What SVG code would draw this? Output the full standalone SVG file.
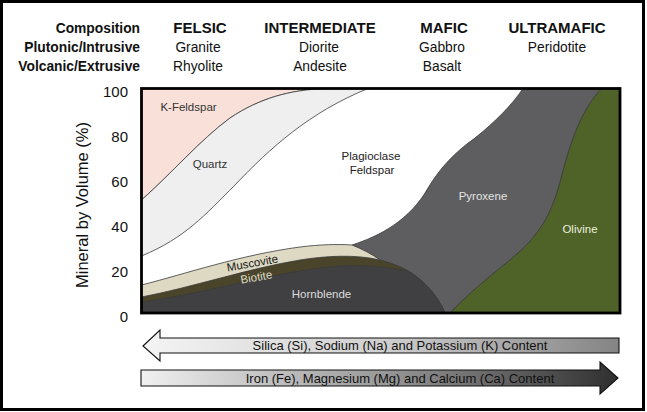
<svg xmlns="http://www.w3.org/2000/svg" width="647" height="412" viewBox="0 0 647 412">
<defs>
<style>
.hb{font-family:"Liberation Sans",Arial,sans-serif;font-weight:bold;fill:#111;}
.hr{font-family:"Liberation Sans",Arial,sans-serif;fill:#111;font-size:13.8px;text-anchor:middle;}
.ax{font-family:"Liberation Sans",Arial,sans-serif;fill:#111;font-size:15px;text-anchor:end;}
.lb{font-family:"Liberation Sans",Arial,sans-serif;font-size:11.5px;text-anchor:middle;}
.ar{font-family:"Liberation Sans",Arial,sans-serif;font-size:13px;fill:#111;text-anchor:middle;}
.bd{stroke:#3a3a3a;stroke-width:0.8;stroke-linejoin:round;}
</style>
<linearGradient id="g1" x1="0" y1="0" x2="1" y2="0">
<stop offset="0" stop-color="#f4f4f4"/><stop offset="0.5" stop-color="#d0d0d0"/><stop offset="1" stop-color="#848484"/>
</linearGradient>
<linearGradient id="g2" x1="0" y1="0" x2="1" y2="0">
<stop offset="0" stop-color="#f0f0f0"/><stop offset="0.5" stop-color="#9a9a9a"/><stop offset="1" stop-color="#2f2f2f"/>
</linearGradient>
</defs>
<rect x="0" y="0" width="647" height="412" fill="#ffffff"/>
<rect x="1.5" y="1.5" width="642" height="408" fill="none" stroke="#000" stroke-width="3"/>

<g id="header">
<text class="hb" x="140" y="33" font-size="13.8" text-anchor="end">Composition</text>
<text class="hb" x="140" y="52" font-size="13.8" text-anchor="end">Plutonic/Intrusive</text>
<text class="hb" x="140" y="70.5" font-size="13.8" text-anchor="end">Volcanic/Extrusive</text>
<text class="hb" x="200" y="33" font-size="15" text-anchor="middle">FELSIC</text>
<text class="hr" x="198" y="52">Granite</text>
<text class="hr" x="198" y="70.5">Rhyolite</text>
<text class="hb" x="320" y="33" font-size="15" text-anchor="middle">INTERMEDIATE</text>
<text class="hr" x="319" y="52">Diorite</text>
<text class="hr" x="320" y="70.5">Andesite</text>
<text class="hb" x="444" y="33" font-size="15" text-anchor="middle">MAFIC</text>
<text class="hr" x="442" y="52">Gabbro</text>
<text class="hr" x="442" y="70.5">Basalt</text>
<text class="hb" x="557" y="33" font-size="15" text-anchor="middle">ULTRAMAFIC</text>
<text class="hr" x="557" y="52">Peridotite</text>
</g>

<g id="axis">
<text class="ax" x="128" y="97">100</text>
<text class="ax" x="128" y="142">80</text>
<text class="ax" x="128" y="187">60</text>
<text class="ax" x="128" y="232">40</text>
<text class="ax" x="128" y="277">20</text>
<text class="ax" x="128" y="322">0</text>
<text font-family="Liberation Sans, Arial, sans-serif" font-size="16.5" fill="#111" text-anchor="middle" transform="translate(88,205) rotate(-90)">Mineral by Volume (%)</text>
</g>

<g id="chart">
<rect x="141.5" y="88.5" width="478.5" height="224.5" fill="#ffffff"/>
<g id="plagioclase">
<text class="lb" x="371" y="160" fill="#222">Plagioclase</text>
<text class="lb" x="372" y="173.5" fill="#222">Feldspar</text>
</g>
<g id="k-feldspar">
<path class="bd" fill="#f9e1da" d="M141.5,88.5 L141.5,200 C170,175 200,140 230,118 C260,98 290,90 325,88.5 Z"/>
<text class="lb" x="188.5" y="111" fill="#333">K-Feldspar</text>
</g>
<g id="quartz">
<path class="bd" fill="#efefef" d="M141.5,200 C170,175 200,140 230,118 C260,98 290,90 325,88.5 L368,88.5 C310,112 270,148 235,185 C205,215 185,238 141.5,256 Z"/>
<text class="lb" x="210" y="168" fill="#333">Quartz</text>
</g>
<g id="pyroxene">
<path class="bd" fill="#5e5e60" d="M352,245 C380,236 410,220 428,188 C440,168 455,152 475,138 C495,122 512,105 523,88.5 L602,88.5 C585,105 572,135 562,175 C552,215 540,235 510,260 C485,280 465,297 450,313 L352,313 Z"/>
<text class="lb" x="483" y="200" fill="#e2e2e2">Pyroxene</text>
</g>
<g id="olivine">
<path class="bd" fill="#4f6228" d="M602,88.5 C585,105 572,135 562,175 C552,215 540,235 510,260 C485,280 465,297 450,313 L620,313 L620,88.5 Z"/>
<text class="lb" x="580" y="233" fill="#ebf1de">Olivine</text>
</g>
<g id="muscovite">
<path class="bd" fill="#ddd9c3" d="M141.5,313 L141.5,285 C185,274 240,255 300,247 C320,244.5 338,244 352,245 C362,249 372,254 380,260 C390,263 400,266 408,271 C420,278 436,292 445,313 Z"/>
</g>
<g id="biotite">
<path class="bd" fill="#4a452a" d="M141.5,313 L141.5,297 C190,288 250,268 300,260 C325,256 355,254 380,260 C390,263 400,266 408,271 C420,278 436,292 445,313 Z"/>
</g>
<g id="hornblende">
<path class="bd" fill="#404042" d="M141.5,313 L141.5,302 C195,295 250,279 300,271 C330,266 360,262 408,271 C420,278 436,292 445,313 Z"/>
<text class="lb" x="321.5" y="298" fill="#dcdcdc">Hornblende</text>
</g>
<text class="lb" x="253" y="267" fill="#1a1a1a" transform="rotate(-10 253 267)">Muscovite</text>
<text class="lb" x="257" y="281" fill="#ddd9c3" transform="rotate(-10 257 281)">Biotite</text>
<rect x="141.5" y="88.5" width="478.5" height="224.5" fill="none" stroke="#000" stroke-width="2.8"/>
</g>

<g id="connectors">
<g id="arrow-silica">
<path d="M143,346 L160,330 L160,338 L619,338 L619,353 L160,353 L160,361 Z" fill="url(#g1)" stroke="#111" stroke-width="1.1" stroke-linejoin="miter"/>
<text class="ar" x="400" y="350">Silica (Si), Sodium (Na) and Potassium (K) Content</text>
</g>
<g id="arrow-iron">
<path d="M141,370 L600,370 L600,362 L618,378 L600,394 L600,386 L141,386 Z" fill="url(#g2)" stroke="#111" stroke-width="1.1" stroke-linejoin="miter"/>
<text class="ar" x="400" y="382.5">Iron (Fe), Magnesium (Mg) and Calcium (Ca) Content</text>
</g>
</g>
</svg>
